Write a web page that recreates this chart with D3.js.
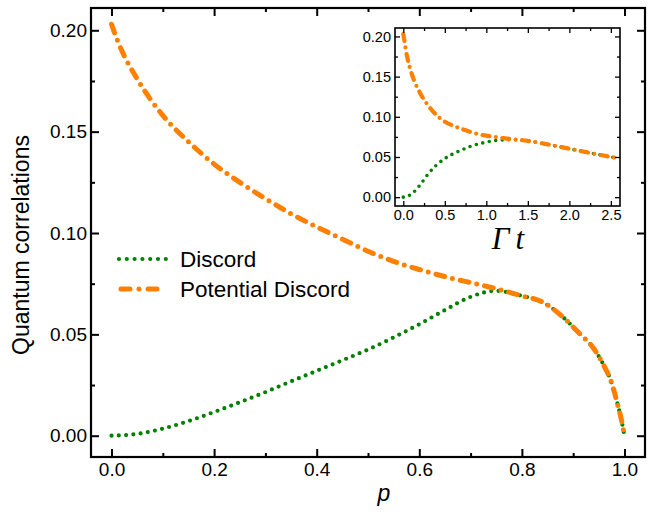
<!DOCTYPE html>
<html>
<head>
<meta charset="utf-8">
<script src="https://cdn.jsdelivr.net/npm/d3@7"></script>
<style>
  html, body { margin: 0; padding: 0; background: #fff; }
  svg { display: block; font-family: "Liberation Sans", Arial, sans-serif; }
</style>
</head>
<body>
<svg id="chart" width="660" height="516"></svg>
<script>
// ---------- DATA ----------
const pValues = [0, 0.01, 0.02, 0.05, 0.1, 0.15, 0.2, 0.25, 0.3, 0.35, 0.4, 0.45, 0.5, 0.55, 0.6, 0.65, 0.7, 0.75, 0.8, 0.84, 0.88, 0.91, 0.94, 0.96, 0.975, 0.985, 0.993, 1.0];
const discordMain = [0, 0.0001, 0.0002, 0.0009, 0.0035, 0.0072, 0.0117, 0.0165, 0.0215, 0.0268, 0.032, 0.0372, 0.0425, 0.0485, 0.055, 0.062, 0.0685, 0.0715, 0.069, 0.066, 0.0585, 0.051, 0.043, 0.0345, 0.026, 0.017, 0.009, 0.0];
const potentialMain = [0.203, 0.196, 0.19, 0.176, 0.158, 0.145, 0.134, 0.125, 0.117, 0.1095, 0.103, 0.097, 0.091, 0.086, 0.082, 0.0785, 0.0755, 0.0725, 0.069, 0.066, 0.0585, 0.051, 0.043, 0.0345, 0.026, 0.017, 0.009, 0.0];

const gammaT = [0, 0.05, 0.1, 0.2, 0.3, 0.4, 0.5, 0.6, 0.7, 0.8, 0.9, 1.0, 1.1, 1.2, 1.3, 1.4, 1.5, 1.75, 2.0, 2.25, 2.5, 2.6];
const discordInset = [0, 0.001, 0.004, 0.015, 0.029, 0.040, 0.048, 0.054, 0.0585, 0.063, 0.066, 0.0685, 0.0703, 0.0712, 0.0716, 0.0712, 0.070, 0.0655, 0.0603, 0.055, 0.050, 0.048];
const potentialInset = [0.203, 0.173, 0.154, 0.130, 0.114, 0.102, 0.094, 0.089, 0.085, 0.0815, 0.0785, 0.0765, 0.075, 0.0735, 0.0722, 0.0712, 0.070, 0.0655, 0.0603, 0.055, 0.050, 0.048];

const mainXTicks = [0, 0.2, 0.4, 0.6, 0.8, 1.0];
const mainXMinor = [0.1, 0.3, 0.5, 0.7, 0.9];
const mainYTicks = [0, 0.05, 0.10, 0.15, 0.20];
const mainYMinor = [0.025, 0.075, 0.125, 0.175];
const insetXTicks = [0, 0.5, 1.0, 1.5, 2.0, 2.5];
const insetXMinor = [0.25, 0.75, 1.25, 1.75, 2.25];
const insetYTicks = [0, 0.05, 0.10, 0.15, 0.20];
const insetYMinor = [0.025, 0.075, 0.125, 0.175];

const seriesNames = ["Discord", "Potential Discord"];
const GREEN = "#008000";
const ORANGE = "#ff8000";

// ---------- SETUP ----------
const svg = d3.select("#chart");

function panel(g, o) {
  const x = d3.scaleLinear().domain(o.xDomain).range([o.left, o.right]);
  const y = d3.scaleLinear().domain(o.yDomain).range([o.bottom, o.top]);
  if (o.fillBg) {
    g.append("rect").attr("x", o.left).attr("y", o.top)
      .attr("width", o.right - o.left).attr("height", o.bottom - o.top).attr("fill", "#fff");
  }
  const clipId = "clip" + o.id;
  g.append("clipPath").attr("id", clipId).append("rect")
    .attr("x", o.left).attr("y", o.top).attr("width", o.right - o.left).attr("height", o.bottom - o.top);

  const line = d3.line().x(d => x(d[0])).y(d => y(d[1])).curve(d3.curveMonotoneX);
  const gData = g.append("g").attr("clip-path", `url(#${clipId})`);
  gData.append("path")
    .attr("d", line(o.xs.map((v, i) => [v, o.s1[i]])))
    .attr("fill", "none").attr("stroke", GREEN).attr("stroke-width", o.dotW)
    .attr("stroke-linecap", "round").attr("stroke-dasharray", `0 ${o.dotGap}`);
  gData.append("path")
    .attr("d", line(o.xs.map((v, i) => [v, o.s2[i]])))
    .attr("fill", "none").attr("stroke", ORANGE).attr("stroke-width", o.dashW)
    .attr("stroke-linecap", "round").attr("stroke-dasharray", o.dashArr);

  // axes with inward ticks on all four sides
  const axB = d3.axisBottom(x).tickValues(o.xTicks).tickSizeInner(-o.major).tickSizeOuter(0).tickPadding(o.xPad).tickFormat(d3.format(".1f"));
  const axT = d3.axisTop(x).tickValues(o.xTicks).tickSizeInner(-o.major).tickSizeOuter(0).tickFormat("");
  const axL = d3.axisLeft(y).tickValues(o.yTicks).tickSizeInner(-o.major).tickSizeOuter(0).tickPadding(o.yPad).tickFormat(d3.format(".2f"));
  const axR = d3.axisRight(y).tickValues(o.yTicks).tickSizeInner(-o.major).tickSizeOuter(0).tickFormat("");
  const mB = d3.axisBottom(x).tickValues(o.xMinor).tickSize(-o.minor).tickFormat("");
  const mT = d3.axisTop(x).tickValues(o.xMinor).tickSize(-o.minor).tickFormat("");
  const mL = d3.axisLeft(y).tickValues(o.yMinor).tickSize(-o.minor).tickFormat("");
  const mR = d3.axisRight(y).tickValues(o.yMinor).tickSize(-o.minor).tickFormat("");

  const addAxis = (ax, tx, ty) => {
    const a = g.append("g").attr("transform", `translate(${tx},${ty})`).call(ax);
    a.select(".domain").remove();
    a.selectAll(".tick line").attr("stroke", "#000").attr("stroke-width", o.tickW);
    a.selectAll(".tick text").attr("fill", "#000").style("font-size", o.fontSize + "px")
      .style("font-family", '"Liberation Sans", Arial, sans-serif');
    return a;
  };
  addAxis(axB, 0, o.bottom);
  addAxis(axT, 0, o.top);
  addAxis(axL, o.left, 0);
  addAxis(axR, o.right, 0);
  addAxis(mB, 0, o.bottom);
  addAxis(mT, 0, o.top);
  addAxis(mL, o.left, 0);
  addAxis(mR, o.right, 0);

  g.append("rect").attr("x", o.left).attr("y", o.top)
    .attr("width", o.right - o.left).attr("height", o.bottom - o.top)
    .attr("fill", "none").attr("stroke", "#000").attr("stroke-width", o.frameW);
  return { x, y };
}

// ---------- MAIN ----------
const gMain = svg.append("g");
const main = panel(gMain, {
  id: "main", left: 91, right: 645, top: 8, bottom: 457,
  xDomain: [-0.04, 1.04], yDomain: [-0.0105, 0.211],
  xs: pValues, s1: discordMain, s2: potentialMain,
  xTicks: mainXTicks, xMinor: mainXMinor, yTicks: mainYTicks, yMinor: mainYMinor,
  major: 8, minor: 4, tickW: 2, frameW: 2.2, fontSize: 19, xPad: 6, yPad: 4,
  dotW: 4.2, dotGap: 7.3, dashW: 5, dashArr: "9 8 0 8"
});

svg.append("text")
  .attr("transform", "translate(29,245) rotate(-90)")
  .attr("text-anchor", "middle")
  .style("font-size", "23px")
  .text("Quantum correlations");

svg.append("text")
  .attr("x", 384).attr("y", 501)
  .attr("text-anchor", "middle")
  .style("font-size", "23px").style("font-style", "italic")
  .text("p");

// legend
const legend = svg.append("g");
const legY = [259, 289];
legend.append("line").attr("x1", 119).attr("x2", 166).attr("y1", legY[0]).attr("y2", legY[0])
  .attr("stroke", GREEN).attr("stroke-width", 4.2).attr("stroke-linecap", "round").attr("stroke-dasharray", "0 7.8");
legend.append("line").attr("x1", 121).attr("x2", 165).attr("y1", legY[1]).attr("y2", legY[1])
  .attr("stroke", ORANGE).attr("stroke-width", 5).attr("stroke-linecap", "round").attr("stroke-dasharray", "9 9 0 9");
seriesNames.forEach((n, i) => {
  legend.append("text").attr("x", 180).attr("y", legY[i] + 8)
    .style("font-size", "22.5px").text(n);
});

// ---------- INSET ----------
const gIn = svg.append("g");
panel(gIn, {
  id: "inset", left: 395, right: 620, top: 28, bottom: 206, fillBg: true,
  xDomain: [-0.1, 2.61], yDomain: [-0.011, 0.2105],
  xs: gammaT, s1: discordInset, s2: potentialInset,
  xTicks: insetXTicks, xMinor: insetXMinor, yTicks: insetYTicks, yMinor: insetYMinor,
  major: 5, minor: 3, tickW: 1.3, frameW: 1.6, fontSize: 14.5, xPad: 4, yPad: 4,
  dotW: 3.6, dotGap: 6.6, dashW: 4.2, dashArr: "7 6.5 0 6.5"
});

const gt = svg.append("text")
  .attr("x", 508).attr("y", 249)
  .attr("text-anchor", "middle")
  .style("font-family", '"Liberation Serif", "Times New Roman", serif')
  .style("font-style", "italic").style("font-size", "31px");
gt.append("tspan").text("Γ");
gt.append("tspan").attr("dx", 6).text("t");
</script>
</body>
</html>
